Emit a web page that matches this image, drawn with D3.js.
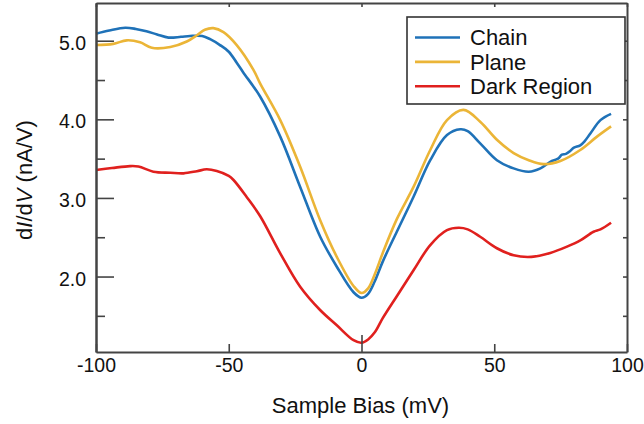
<!DOCTYPE html>
<html>
<head>
<meta charset="utf-8">
<script src="https://cdn.jsdelivr.net/npm/d3@7"></script>
<style>
	body { margin: 0; background: #fff; }
	svg text { font-family: "Liberation Sans", Arial, sans-serif; fill: #111; }
</style>
</head>
<body>
<svg></svg>
<script>
// series: [bias (mV), dI/dV (nA/V)]
const chainData = [
	[-100, 5.09], [-95, 5.13], [-89, 5.165], [-85, 5.15], [-81, 5.12], [-77, 5.08],
	[-72.7, 5.04], [-68, 5.05], [-64.6, 5.06], [-60, 5.06], [-57, 5.02], [-53.3, 4.945],
	[-50, 4.86], [-47, 4.72], [-44.6, 4.6], [-38.2, 4.29], [-30.6, 3.78], [-23.1, 3.14],
	[-15.6, 2.51], [-9.3, 2.125], [-3, 1.8], [0, 1.73], [2.5, 1.78], [5, 1.94],
	[8, 2.19], [13.3, 2.57], [19.6, 3.015], [25.9, 3.48], [32.2, 3.8], [37.2, 3.873],
	[40, 3.85], [44.7, 3.695], [51, 3.48], [57.3, 3.376], [63, 3.334], [67.4, 3.376],
	[71.1, 3.46], [74, 3.5], [75.5, 3.55], [77, 3.56], [78.7, 3.6], [80, 3.64],
	[82.4, 3.67], [84, 3.72], [86.2, 3.82], [90, 3.99], [94, 4.07]
];
const planeData = [
	[-100, 4.945], [-93.5, 4.96], [-88.4, 5.005], [-83.4, 4.98], [-79, 4.91], [-72, 4.92],
	[-65.8, 4.99], [-62, 5.07], [-59, 5.14], [-55.8, 5.16], [-52, 5.11], [-47, 4.945],
	[-40.7, 4.63], [-38.2, 4.458], [-30.6, 3.99], [-23.1, 3.397], [-15.6, 2.72],
	[-9.3, 2.25], [-3, 1.88], [0, 1.79], [2.5, 1.85], [5, 2.03], [8, 2.3], [13.3, 2.73],
	[19.6, 3.14], [25.9, 3.61], [32.2, 3.99], [38.4, 4.12], [44.7, 3.97], [51, 3.74],
	[57.3, 3.57], [63, 3.48], [68.6, 3.43], [74.9, 3.47], [82.4, 3.61], [88.7, 3.78],
	[94, 3.91]
];
const darkData = [
	[-100, 3.355], [-94, 3.38], [-87.2, 3.405], [-84, 3.4], [-78.4, 3.334], [-72, 3.32],
	[-67, 3.313], [-62, 3.34], [-58.3, 3.364], [-54.5, 3.342], [-50, 3.28], [-48.2, 3.228],
	[-43.2, 3.01], [-38.2, 2.77], [-30.6, 2.295], [-23.1, 1.87], [-15.6, 1.574],
	[-9.3, 1.38], [-3, 1.19], [0, 1.158], [2.5, 1.2], [5, 1.29], [8, 1.47], [13.3, 1.75],
	[19.6, 2.08], [25.9, 2.4], [32.2, 2.59], [36.6, 2.62], [40, 2.6], [44.7, 2.506],
	[51, 2.36], [57.3, 2.27], [64, 2.25], [71.1, 2.3], [77.4, 2.38], [82.4, 2.46],
	[87.4, 2.57], [90, 2.6], [94, 2.685]
];

const seriesNames = ["Chain", "Plane", "Dark Region"];
const seriesColors = ["#1f72b8", "#ebb537", "#e0201e"];
const xTicks = [-100, -50, 0, 50, 100];
const yMajorTicks = [2.0, 3.0, 4.0, 5.0];
const yMinorTicks = [1.5, 2.5, 3.5, 4.5];
const yRightTicks = [1.5, 2.0, 2.5, 3.0, 3.5, 4.0, 4.5, 5.0];
const xDomain = [-100, 100];
const yDomain = [1.04, 5.48];

const W = 644, H = 424;
const plot = { l: 96, r: 627, t: 3, b: 352 };
const axisColor = "#444";

const svg = d3.select("svg").attr("width", W).attr("height", H);

const scaleX = d3.scaleLinear().domain(xDomain).range([plot.l, plot.r]);
const scaleY = d3.scaleLinear().domain(yDomain).range([plot.b, plot.t]);

// curves
const line = d3.line()
	.x((d) => scaleX(d[0]))
	.y((d) => scaleY(d[1]))
	.curve(d3.curveCatmullRom.alpha(0.5));

[chainData, planeData, darkData].forEach((data, i) => {
	svg.append("path")
		.datum(data)
		.attr("d", line)
		.attr("fill", "none")
		.attr("stroke", seriesColors[i])
		.attr("stroke-width", 2.6)
		.attr("stroke-linejoin", "round");
});

function styleAxis(g) {
	g.select(".domain").attr("stroke", axisColor).attr("stroke-width", 2);
	g.selectAll(".tick line").attr("stroke", axisColor).attr("stroke-width", 1.6);
	g.selectAll("text").attr("font-size", 19.5).attr("fill", "#111")
		.attr("font-family", "'Liberation Sans', Arial, sans-serif");
}

// bottom axis
const axisX = d3.axisBottom(scaleX).tickValues(xTicks).tickFormat((d) => d)
	.tickSizeInner(-8).tickSizeOuter(0).tickPadding(6);
const axisXG = svg.append("g")
	.attr("transform", `translate(0, ${plot.b})`)
	.call(axisX)
	.call(styleAxis);
axisXG.selectAll(".tick").filter((d) => d === 0).select("line").attr("y2", -17);

// top axis
svg.append("g")
	.attr("transform", `translate(0, ${plot.t})`)
	.call(d3.axisTop(scaleX).tickValues(xTicks).tickFormat("").tickSizeInner(-4).tickSizeOuter(0))
	.call(styleAxis);

// left axis, major + minor
const axisY = d3.axisLeft(scaleY).tickValues(yMajorTicks).tickFormat(d3.format(".1f"))
	.tickSizeInner(-18).tickSizeOuter(0).tickPadding(10);
svg.append("g")
	.attr("transform", `translate(${plot.l}, 0)`)
	.call(axisY)
	.call(styleAxis)
	.selectAll("text").attr("dy", "0.44em");
svg.append("g")
	.attr("transform", `translate(${plot.l}, 0)`)
	.call(d3.axisLeft(scaleY).tickValues(yMinorTicks).tickFormat("").tickSizeInner(-9).tickSizeOuter(0))
	.call(styleAxis);

// right axis
svg.append("g")
	.attr("transform", `translate(${plot.r}, 0)`)
	.call(d3.axisRight(scaleY).tickValues(yRightTicks).tickFormat("").tickSizeInner(-4).tickSizeOuter(0))
	.call(styleAxis);

// axis labels
svg.append("text")
	.attr("x", (plot.l + plot.r) / 2 - 1)
	.attr("y", 413)
	.attr("text-anchor", "middle")
	.attr("font-size", 22)
	.text("Sample Bias (mV)");

const yLabel = svg.append("text")
	.attr("transform", "translate(32, 180) rotate(-90)")
	.attr("text-anchor", "middle")
	.attr("font-size", 22);
yLabel.append("tspan").text("d");
yLabel.append("tspan").attr("font-style", "italic").text("I");
yLabel.append("tspan").text("/d");
yLabel.append("tspan").attr("font-style", "italic").text("V");
yLabel.append("tspan").text(" (nA/V)");

// legend
const legend = svg.append("g").attr("transform", "translate(407, 17)");
legend.append("rect")
	.attr("width", 218).attr("height", 87)
	.attr("fill", "#fff").attr("stroke", "#333").attr("stroke-width", 1.6);
seriesNames.forEach((name, i) => {
	const y = 20.5 + i * 24.4;
	legend.append("line")
		.attr("x1", 8).attr("x2", 53).attr("y1", y).attr("y2", y)
		.attr("stroke", seriesColors[i]).attr("stroke-width", 2.6);
	legend.append("text")
		.attr("x", 63).attr("y", y).attr("dy", "0.36em")
		.attr("font-size", 22)
		.text(name);
});
</script>
</body>
</html>
